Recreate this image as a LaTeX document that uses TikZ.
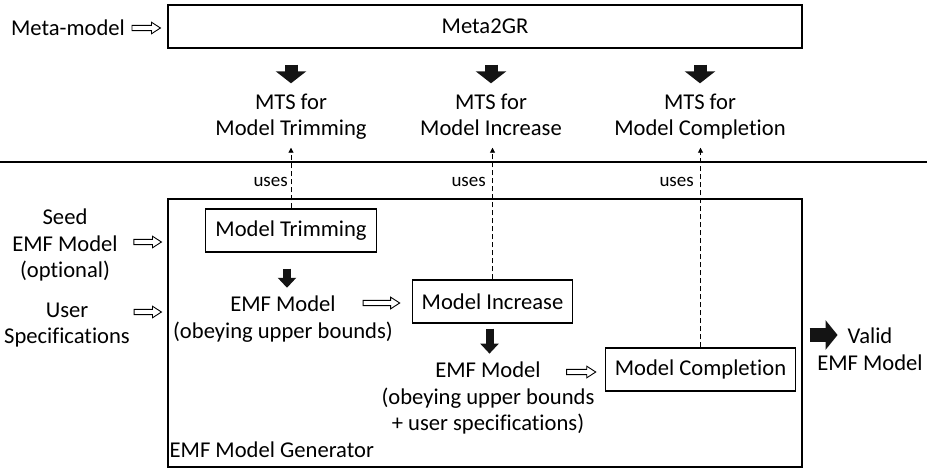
\documentclass[tikz,border=0pt]{standalone}
\usepackage{fontspec}
\setmainfont{Carlito}[Ligatures=NoCommon]
\usetikzlibrary{arrows.meta,positioning,calc}
\tikzset{
  box/.style={rectangle,draw=black,line width=1.1pt,
    inner xsep=9.5pt,inner ysep=0pt,minimum height=43pt},
  txt/.style={align=center,inner sep=0pt},
  useslbl/.style={inner sep=0pt,font=\fontsize{19}{22}\selectfont},
  blk/.style={line width=13pt,draw=black!92,
    -{Triangle[length=12pt,width=30pt]}},
  blksm/.style={line width=8pt,draw=black!92,
    -{Triangle[length=10pt,width=18pt]}},
  usesarr/.style={line width=0.9pt,dash pattern=on 5pt off 3pt,
    -{Triangle[length=5pt,width=5pt]}},
  hollow/.style={draw=black,line width=0.9pt,fill=white,
    to path={let \p1=(\tikztostart),\p2=(\tikztotarget) in
      (\x1,\y1+2.6pt) -- (\x2-9pt,\y1+2.6pt) -- (\x2-9pt,\y1+5.8pt)
      -- (\x2,\y1) -- (\x2-9pt,\y1-5.8pt) -- (\x2-9pt,\y1-2.6pt)
      -- (\x1,\y1-2.6pt) -- cycle}},
}
\begin{document}
\begin{tikzpicture}[x=1pt,y=-1pt,
                    every node/.style={font=\fontsize{22.6}{26.5}\selectfont}]
  \useasboundingbox (0,0) rectangle (934,472);

  % --- Upper part: Meta2GR ---
  \node (meta2gr) [box,minimum width=634pt] at (485,26.5) {Meta2GR};
  \node (metain)  [txt,anchor=east] at (125,28) {Meta-model};

  \node (mtstrim) [txt] at (291,117) {\strut MTS for\\\strut Model Trimming};
  \node (mtsinc)  [txt] at (491,117) {\strut MTS for\\\strut Model Increase};
  \node (mtscomp) [txt] at (700,117) {\strut MTS for\\\strut Model Completion};

  % --- Separator ---
  \coordinate (sepL) at (0,162);
  \coordinate (sepR) at (927,162);
  \draw[line width=1.1pt] (sepL) -- (sepR);

  % --- Lower part: generator ---
  \node (gen) [rectangle,draw=black,line width=1.1pt,
               minimum width=634pt,minimum height=268pt] at (485,333) {};
  \node (genlbl) [inner sep=0pt,anchor=base west]
    at ([xshift=2pt,yshift=10pt]gen.south west) {EMF Model Generator};

  \node (trim) [box] at (291,230.5) {Model Trimming};
  \node (inc)  [box] at (492.5,301.5) {Model Increase};
  \node (comp) [box] at (700.5,369.5) {Model Completion};

  \node (emf1) [txt] at (283,319) {EMF Model\\(obeying upper bounds)};
  \node (emf2) [txt] at (488,398)
    {EMF Model\\(obeying upper bounds\\+ user specifications)};

  % inputs and output
  \node (seed)  [txt] at (65,245) {Seed\\EMF Model\\(optional)};
  \node (user)  [txt] at (67,325) {User\\Specifications};
  \node (valid) [txt] at (870,349) {Valid\\EMF Model};
  \coordinate (validtip) at ([xshift=35pt,yshift=-2pt]gen.east);

  % uses labels
  \node (u1) [useslbl,anchor=east] at (288,182) {uses};
  \node (u2) [useslbl,anchor=east] at (486,182) {uses};
  \node (u3) [useslbl,anchor=east] at (694,182) {uses};

  % --- Arrows: Meta2GR -> MTS ---
  \draw[hollow] ([xshift=7pt]metain.east) to ([xshift=-7pt]meta2gr.west);
  \draw[blk,shorten <=16pt,shorten >=7pt]
    (meta2gr.south -| mtstrim.north) -- (mtstrim.north);
  \draw[blk,shorten <=16pt,shorten >=7pt]
    (meta2gr.south -| mtsinc.north) -- (mtsinc.north);
  \draw[blk,shorten <=16pt,shorten >=7pt]
    (meta2gr.south -| mtscomp.north) -- (mtscomp.north);

  % --- Arrows: uses ---
  \draw[usesarr,shorten >=4pt] (trim.north) -- (trim.north |- mtstrim.south);
  \draw[usesarr,shorten >=4pt] (inc.north) -- (inc.north |- mtsinc.south);
  \draw[usesarr,shorten >=4pt] (comp.north) -- (comp.north |- mtscomp.south);

  % --- Arrows: generator flow ---
  \draw[hollow] ([xshift=16pt,yshift=3pt]seed.east) to ([xshift=-6pt]gen.west);
  \draw[hollow] ([xshift=4pt,yshift=13pt]user.east) to ([xshift=-6pt]gen.west);
  \draw[blksm,shorten <=16pt,shorten >=8pt]
    ([xshift=-4pt]trim.south) -- ([xshift=-4pt]trim.south |- emf1.north);
  \draw[hollow] ([xshift=-30pt,yshift=16pt]emf1.east) to ([xshift=-12pt]inc.west);
  \draw[blksm,shorten <=5pt,shorten >=8pt]
    ([xshift=-3pt]inc.south) -- ([xshift=-3pt]inc.south |- emf2.north);
  \draw[hollow] ([xshift=-28pt,yshift=26pt]emf2.east) to ([xshift=-9pt]comp.west);
  \draw[blk,line width=14pt,-{Triangle[length=12pt,width=29pt]},shorten <=7pt]
    ([yshift=-2pt]gen.east) -- (validtip);
\end{tikzpicture}
\end{document}
